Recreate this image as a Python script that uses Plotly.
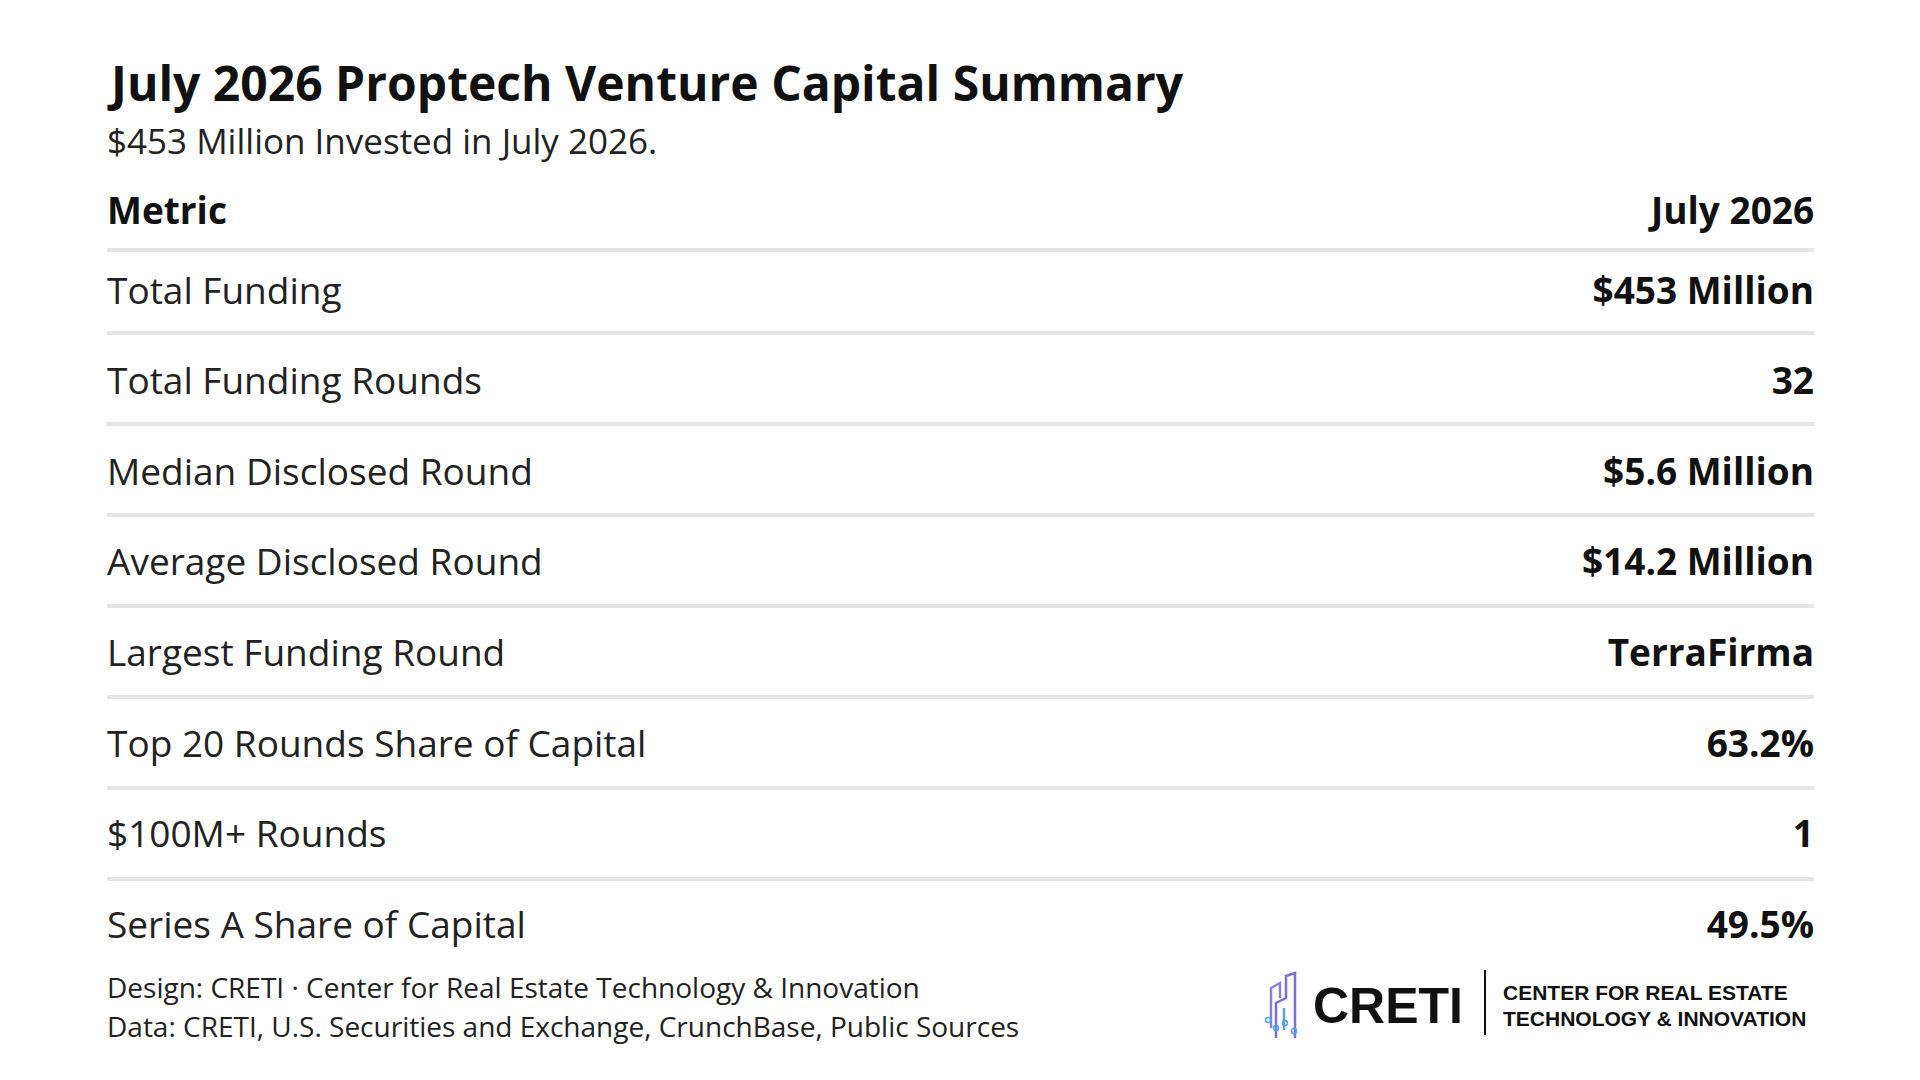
import plotly.graph_objects as go

title = "July 2026 Proptech Venture Capital Summary"
subtitle = "$453 Million Invested in July 2026."
header = ["Metric", "July 2026"]
metrics = ["Total Funding", "Total Funding Rounds", "Median Disclosed Round", "Average Disclosed Round",
           "Largest Funding Round", "Top 20 Rounds Share of Capital", "$100M+ Rounds", "Series A Share of Capital"]
values = ["$453 Million", "32", "$5.6 Million", "$14.2 Million", "TerraFirma", "63.2%", "1", "49.5%"]
footer = ["Design: CRETI · Center for Real Estate Technology & Innovation",
          "Data: CRETI, U.S. Securities and Exchange, CrunchBase, Public Sources"]

W, H = 1920, 1080
L, R = 99, 1806
row_y = [287, 377, 468, 558, 649, 740, 830, 921]
sep_y = [242, 325, 416, 507, 598, 689, 780, 871]
F = "Open Sans"

fig = go.Figure()
fig.add_trace(go.Scatter(x=[L]*len(metrics), y=row_y, text=metrics, mode="text",
                         textposition="middle right", textfont=dict(family=F, size=37, color="#222")))
fig.add_trace(go.Scatter(x=[R]*len(values), y=row_y, text=["<b>%s</b>" % v for v in values], mode="text",
                         textposition="middle left", textfont=dict(family=F, size=37, color="#111")))

ann = []
def t(x, y, s, size, xa="left", bold=False, color="#111", fam=F):
    ann.append(dict(x=x, y=y, xref="x", yref="y", text=("<b>%s</b>" % s) if bold else s, showarrow=False,
                    xanchor=xa, yanchor="middle", font=dict(family=fam, size=size, color=color)))
t(L - 2, 74, title, 48, bold=True)
t(L - 2, 132, subtitle, 35, color="#222")
t(L - 2, 201, header[0], 37, bold=True)
t(R + 2, 201, header[1], 37, xa="right", bold=True)
t(L - 2, 979, footer[0], 28, color="#222")
t(L - 2, 1018, footer[1], 28, color="#222")
t(1303, 998, "CRETI", 50, bold=True, color="#111", fam="Liberation Sans")
t(1493, 984, "CENTER FOR REAL ESTATE", 21, bold=True, fam="Liberation Sans")
t(1493, 1010, "TECHNOLOGY & INNOVATION", 21, bold=True, fam="Liberation Sans")

shapes = [dict(type="line", x0=L, x1=R, y0=y, y1=y, xref="x", yref="y",
               line=dict(color="#e4e4e4", width=4)) for y in sep_y]
shapes.append(dict(type="line", x0=1477, x1=1477, y0=962, y1=1027, xref="x", yref="y",
                   line=dict(color="#111", width=2)))
# logo icon
for pts, c in [([(1263, 1020), (1263, 980), (1272, 975), (1272, 990)], "#8a7fe0"),
               ([(1268, 1030), (1268, 995), (1278, 990), (1278, 968), (1287, 965), (1287, 1030)], "#7a6ee0"),
               ([(1276, 1022), (1276, 1000)], "#5aa0f0")]:
    path = "M " + " L ".join("%d,%d" % p for p in pts)
    shapes.append(dict(type="path", path=path, xref="x", yref="y", line=dict(color=c, width=2.5)))
for cx, cy in [(1260, 1012), (1268, 1020), (1277, 1015), (1286, 1023)]:
    shapes.append(dict(type="circle", x0=cx-2.5, x1=cx+2.5, y0=cy-2.5, y1=cy+2.5, xref="x", yref="y",
                       line=dict(color="#4aa8f0", width=1.5)))

fig.update_layout(width=W, height=H, margin=dict(l=0, r=0, t=0, b=0), showlegend=False,
                  plot_bgcolor="white", paper_bgcolor="white", annotations=ann, shapes=shapes,
                  xaxis=dict(range=[0, W], visible=False, fixedrange=True),
                  yaxis=dict(range=[H, 0], visible=False, fixedrange=True))
fig.write_html("out.html", config={"displayModeBar": False})
